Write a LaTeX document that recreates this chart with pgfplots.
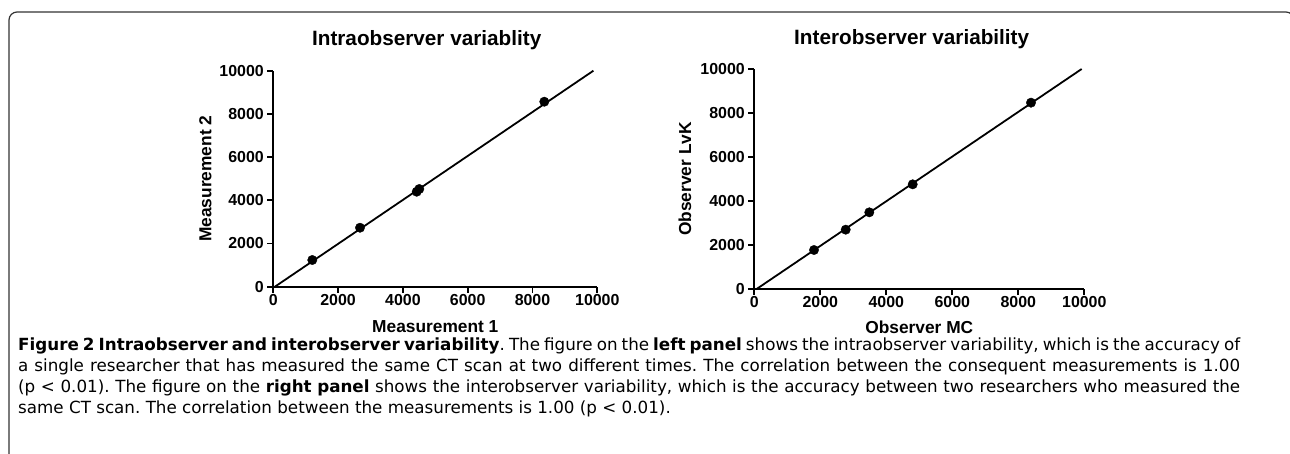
\documentclass[border=0pt]{standalone}
\usepackage{fontspec}
\setmainfont{Liberation Sans}
\newfontfamily\capfont{DejaVu Sans}
\usepackage{pgfplots}
\pgfplotsset{compat=1.18}

\pgfplotsset{
  gp/.style={
    anchor=south west, scale only axis,
    xmin=0, xmax=10000, ymin=0, ymax=10000,
    axis x line*=bottom, axis y line*=left,
    axis line style={line width=1.8bp, -},
    xtick={0,2000,4000,6000,8000,10000},
    ytick={0,2000,4000,6000,8000,10000},
    tick style={line width=1.8bp, black},
    major tick length=6bp,
    tick align=outside,
    scaled ticks=false,
    /pgf/number format/1000 sep={},
    /pgf/number format/assume math mode=true,
    ticklabel style={font=\fontsize{16}{16}\selectfont\bfseries},
    xticklabel style={yshift=2bp},
    label style={font=\fontsize{17.4}{17.4}\selectfont\bfseries},
    clip=false,
  }
}

\begin{document}
\frenchspacing
\begin{tikzpicture}
\useasboundingbox (0,0) rectangle (1290bp,-454bp);
\draw[line width=1.2bp, rounded corners=8bp, black!80] (9bp,-470bp) -- (9bp,-12bp) -- (1294bp,-12bp) -- (1294bp,-470bp);

% Left panel
\begin{axis}[gp,
  at={(273.3bp,-286.7bp)}, width=324bp, height=216bp,
  xlabel={Measurement 1}, ylabel={Measurement 2},
  xlabel style={at={(axis description cs:0.5,-0.214)}, anchor=base},
  ylabel style={at={(axis description cs:-0.2099,0.5)}, anchor=center},
]
\addplot[black, line width=1.8bp] coordinates {(50,0) (9880,10000)};
\addplot[only marks, mark=*, mark size=4.7bp, black] coordinates {
  (1204,1236) (2676,2731) (4426,4398) (4506,4523) (8364,8565)};
\end{axis}

% Right panel
\begin{axis}[gp,
  at={(754.3bp,-289bp)}, width=330bp, height=220bp,
  xlabel={Observer MC}, ylabel={Observer LvK},
  xlabel style={at={(axis description cs:0.5,-0.2)}, anchor=base},
  ylabel style={at={(axis description cs:-0.21,0.5)}, anchor=center},
]
\addplot[black, line width=1.8bp] coordinates {(70,0) (9920,10000)};
\addplot[only marks, mark=*, mark size=4.7bp, black] coordinates {
  (1809,1773) (2770,2697) (3485,3485) (4800,4758) (8385,8470)};
\end{axis}

\node[font=\fontsize{20.8}{20.8}\selectfont\bfseries, anchor=base] at (426.7bp,-45bp) {Intraobserver variablity};
\node[font=\fontsize{20.8}{20.8}\selectfont\bfseries, anchor=base] at (911.7bp,-44bp) {Interobserver variability};

\node[anchor=north west, inner sep=0pt,
  font=\capfont\fontsize{16.8}{21}\selectfont\frenchspacing] at (18bp,-338bp) {%
\vbox{\baselineskip=21bp \lineskiplimit=-10bp
\spaceskip=0.318em plus 1em minus 0.15em
\hbox to 1222bp{\textbf{Figure 2 Intraobserver and interobserver variability}. The figure on the \textbf{left panel} shows the intraobserver variability, which is the accuracy of}
\hbox to 1222bp{a single researcher that has measured the same CT scan at two different times. The correlation between the consequent measurements is 1.00}
\hbox to 1222bp{(p < 0.01). The figure on the \textbf{right panel} shows the interobserver variability, which is the accuracy between two researchers who measured the}
\hbox{same CT scan. The correlation between the measurements is 1.00 (p < 0.01).}}};
\end{tikzpicture}
\end{document}
